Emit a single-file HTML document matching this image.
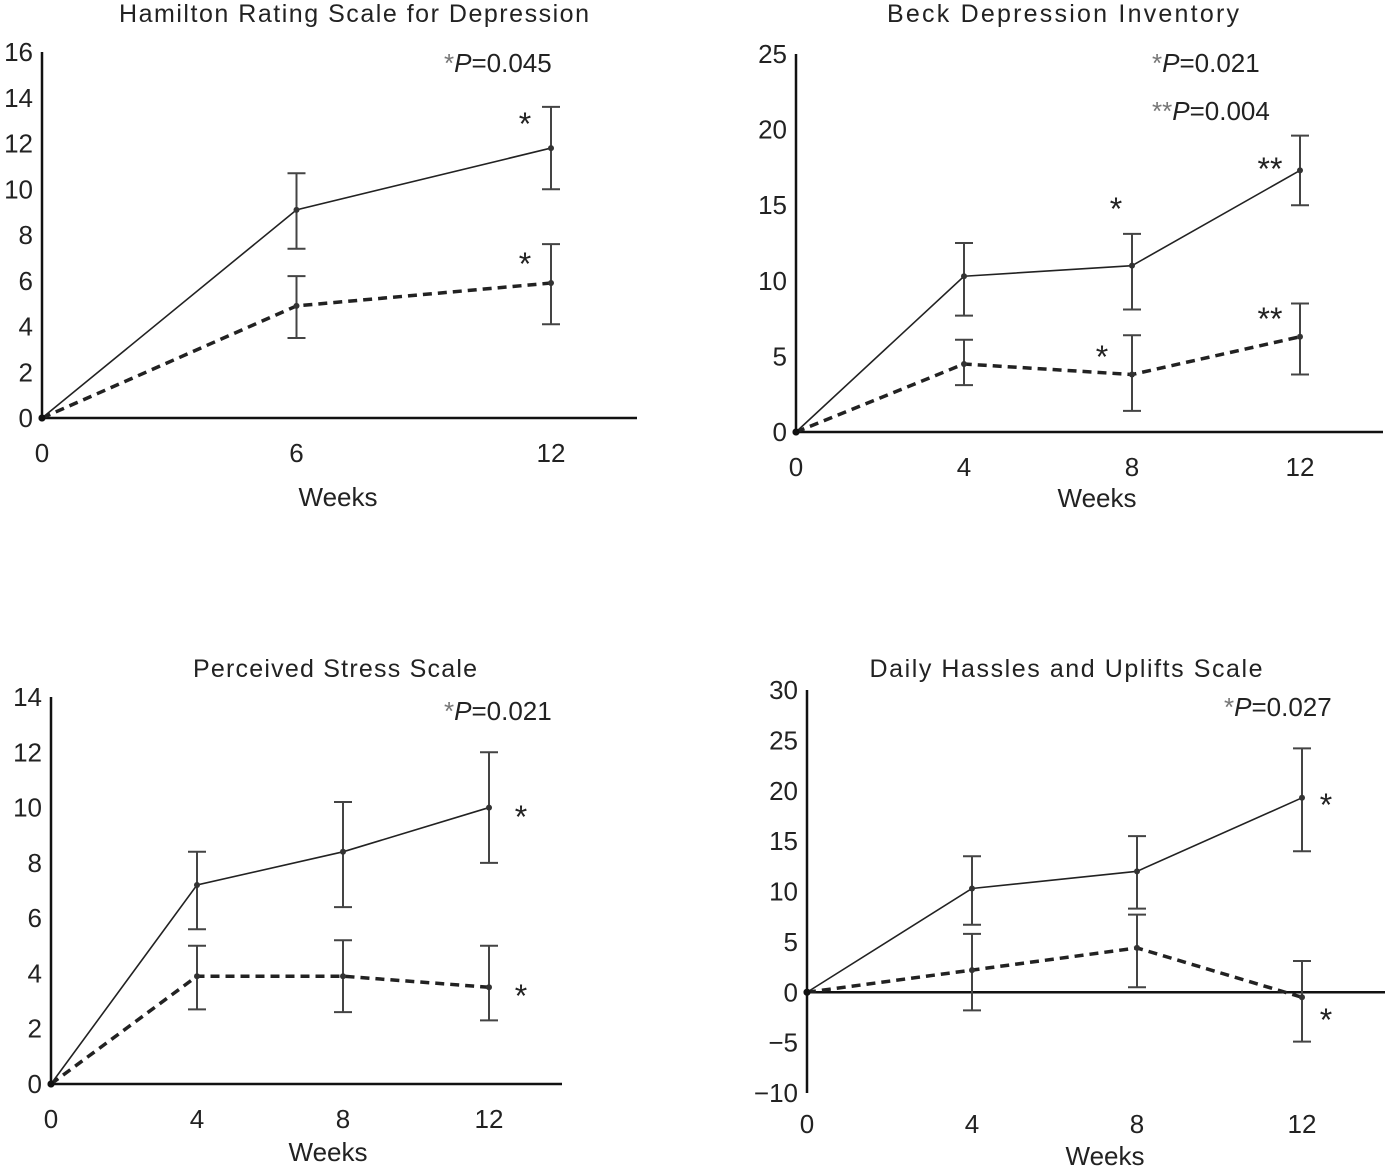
<!DOCTYPE html>
<html><head><meta charset="utf-8"><style>
html,body{margin:0;padding:0;background:#fff}
svg{display:block}
text{font-family:"Liberation Sans",sans-serif;fill:#222}
</style></head><body>
<svg id="c" width="1385" height="1167" viewBox="0 0 1385 1167"></svg>
<script>
// Hamilton
const hamWeeks=[0,6,12];
const hamSolid=[0,9.1,11.8];
const hamSolidLo=[0,7.4,10];
const hamSolidHi=[0,10.7,13.6];
const hamDash=[0,4.9,5.9];
const hamDashLo=[0,3.5,4.1];
const hamDashHi=[0,6.2,7.6];
const hamYTicks=[0,2,4,6,8,10,12,14,16];
// Beck
const beckWeeks=[0,4,8,12];
const beckSolid=[0,10.3,11,17.3];
const beckSolidLo=[0,7.7,8.1,15];
const beckSolidHi=[0,12.5,13.1,19.6];
const beckDash=[0,4.5,3.8,6.3];
const beckDashLo=[0,3.1,1.4,3.8];
const beckDashHi=[0,6.1,6.4,8.5];
const beckYTicks=[0,5,10,15,20,25];
// Perceived stress
const pssWeeks=[0,4,8,12];
const pssSolid=[0,7.2,8.4,10];
const pssSolidLo=[0,5.6,6.4,8];
const pssSolidHi=[0,8.4,10.2,12];
const pssDash=[0,3.9,3.9,3.5];
const pssDashLo=[0,2.7,2.6,2.3];
const pssDashHi=[0,5,5.2,5];
const pssYTicks=[0,2,4,6,8,10,12,14];
// Daily hassles
const dhWeeks=[0,4,8,12];
const dhSolid=[0,10.3,12,19.3];
const dhSolidLo=[0,6.7,8.3,14];
const dhSolidHi=[0,13.5,15.5,24.2];
const dhDash=[0,2.2,4.4,-0.5];
const dhDashLo=[0,-1.8,0.5,-4.9];
const dhDashHi=[0,5.8,7.7,3.1];
const dhYTicks=[-10,-5,0,5,10,15,20,25,30];

const svg=document.getElementById('c');
const NS='http://www.w3.org/2000/svg';
function mk(tag,attrs,parent){const e=document.createElementNS(NS,tag);for(const k in attrs)e.setAttribute(k,attrs[k]);(parent||svg).appendChild(e);return e;}
function txt(x,y,s,size,anchor,parent,fill){const t=mk('text',{x:x,y:y,'font-size':size,'text-anchor':anchor||'middle'},parent);if(fill)t.setAttribute('fill',fill);t.textContent=s;return t;}

function chart(o){
  const g=mk('g',{});
  
  
  const ymin=o.yTicks[0],ymax=o.yTicks[o.yTicks.length-1];
  const xMax=o.weeks[o.weeks.length-1];
  const X=v=>o.x0+(v/xMax)*(o.x12-o.x0);
  const Y=v=>o.yBot+(v-ymin)/(ymax-ymin)*(o.yTop-o.yBot);
  const t=txt(o.titleX,o.titleY,o.title,25,'middle',g);
  t.setAttribute('textLength',o.titleW);
  
  
  const ya=mk('line',{x1:o.x0,y1:Y(ymax),x2:o.x0,y2:Y(ymin),stroke:'#111','stroke-width':2.5},g);
  
  
  const xa=mk('line',{x1:o.x0,y1:Y(0),x2:o.xEnd,y2:Y(0),stroke:'#111','stroke-width':2.5},g);
  
  
  o.yTicks.forEach(v=>{
    const l=txt(o.x0-9,Y(v)+9,String(v).replace('-','\u2212'),26,'end',g);
    
    
  });
  o.weeks.forEach(v=>{
    const l=txt(X(v),o.xLabY,String(v),26,'middle',g);
    
    
  });
  const w=txt(o.weeksX,o.weeksY,'Weeks',26,'middle',g);
  
  
  function series(vals,lo,hi,dash,nm){
    const pts=o.weeks.map((wk,i)=>X(wk)+','+Y(vals[i])).join(' ');
    const p=mk('polyline',{points:pts,fill:'none',stroke:'#222','stroke-width':dash?3.5:1.6},g);
    if(dash)p.setAttribute('stroke-dasharray','9,6');
    
    
    o.weeks.forEach((wk,i)=>{
      if(i===0)return;
      const x=X(wk);
      const eb=mk('path',{d:`M${x},${Y(lo[i])}V${Y(hi[i])}M${x-9},${Y(lo[i])}H${x+9}M${x-9},${Y(hi[i])}H${x+9}`,stroke:'#444','stroke-width':2,fill:'none'},g);
      
      
      const c=mk('circle',{cx:x,cy:Y(vals[i]),r:3,fill:'#333'},g);
      
      
    });
    const c0=mk('circle',{cx:X(0),cy:Y(vals[0]),r:3.5,fill:'#111'},g);
    
    
  }
  series(o.solid,o.solidLo,o.solidHi,false,'group-a');
  series(o.dash,o.dashLo,o.dashHi,true,'group-b');
  o.notes.forEach(n=>{
    const a=txt(n[0],n[1],'',26,'start',g);
    
    
    const s1=mk('tspan',{fill:'#777'},a);s1.textContent=n[2];
    const s2=mk('tspan',{'font-style':'italic'},a);s2.textContent='P';
    const s3=mk('tspan',{},a);s3.textContent='='+n[3];
  });
  o.stars.forEach(s=>{
    const a=txt(s[0],s[1]+8,s[2],32,'middle',g,'#777');
    
    
  });
}

chart({name:'hamilton-chart',title:'Hamilton Rating Scale for Depression',titleX:354,titleY:22,titleW:470,
  weeks:hamWeeks,solid:hamSolid,solidLo:hamSolidLo,solidHi:hamSolidHi,dash:hamDash,dashLo:hamDashLo,dashHi:hamDashHi,
  yTicks:hamYTicks,x0:42,x12:551,xEnd:637,yTop:52,yBot:418,xLabY:462,weeksX:338,weeksY:506,
  notes:[[444,72,'*','0.045']],stars:[[525,127,'*'],[525,267,'*']]});
chart({name:'beck-chart',title:'Beck Depression Inventory',titleX:1063,titleY:22,titleW:352,
  weeks:beckWeeks,solid:beckSolid,solidLo:beckSolidLo,solidHi:beckSolidHi,dash:beckDash,dashLo:beckDashLo,dashHi:beckDashHi,
  yTicks:beckYTicks,x0:796,x12:1300,xEnd:1383,yTop:54,yBot:432,xLabY:476,weeksX:1097,weeksY:507,
  notes:[[1152,72,'*','0.021'],[1152,120,'**','0.004']],stars:[[1116,212,'*'],[1270,172,'**'],[1102,360,'*'],[1270,322,'**']]});
chart({name:'perceived-stress-chart',title:'Perceived Stress Scale',titleX:335,titleY:677,titleW:284,
  weeks:pssWeeks,solid:pssSolid,solidLo:pssSolidLo,solidHi:pssSolidHi,dash:pssDash,dashLo:pssDashLo,dashHi:pssDashHi,
  yTicks:pssYTicks,x0:51,x12:489,xEnd:562,yTop:697,yBot:1084,xLabY:1128,weeksX:328,weeksY:1161,
  notes:[[444,720,'*','0.021']],stars:[[521,820,'*'],[521,999,'*']]});
chart({name:'daily-hassles-chart',title:'Daily Hassles and Uplifts Scale',titleX:1066,titleY:677,titleW:393,
  weeks:dhWeeks,solid:dhSolid,solidLo:dhSolidLo,solidHi:dhSolidHi,dash:dhDash,dashLo:dhDashLo,dashHi:dhDashHi,
  yTicks:dhYTicks,x0:807,x12:1302,xEnd:1385,yTop:690,yBot:1093,xLabY:1133,weeksX:1105,weeksY:1165,
  notes:[[1224,716,'*','0.027']],stars:[[1326,808,'*'],[1326,1023,'*']]});
</script>
</body></html>
